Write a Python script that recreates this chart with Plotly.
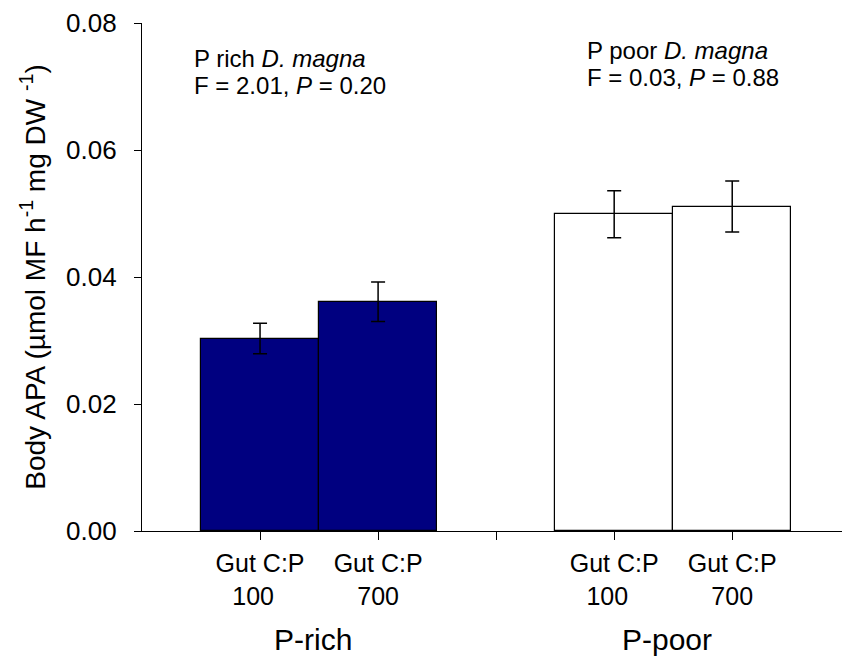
import plotly.graph_objects as go

# Treatment groups and their gut C:P levels
groups = ["P-rich", "P-rich", "P-poor", "P-poor"]
positions = [1, 2, 4, 5]
tick_positions = [1, 2, 3, 4, 5]
tick_labels = ["Gut C:P<br>100  ", "Gut C:P<br>700", "", "Gut C:P<br>100  ", "Gut C:P<br>700"]

# Body alkaline phosphatase activity (mean ± SE)
body_apa = [0.0303, 0.0361, 0.0499, 0.0511]
body_apa_se = [0.0024, 0.0031, 0.0037, 0.0040]
bar_colors = ["#000080", "#000080", "#ffffff", "#ffffff"]

# One-way ANOVA summaries, one line of text per row
stats_rich = ["P rich <i>D. magna</i>", "F = 2.01, <i>P</i> = 0.20"]
stats_poor = ["P poor <i>D. magna</i>", "F = 0.03, <i>P</i> = 0.88"]

FONT = "Liberation Sans, Arial, sans-serif"

fig = go.Figure()
fig.add_trace(go.Bar(
    x=positions,
    y=body_apa,
    width=1.0,
    marker=dict(color=bar_colors, line=dict(color="black", width=1.2)),
    error_y=dict(type="data", array=body_apa_se, visible=True,
                 color="black", thickness=1.5, width=7),
    showlegend=False,
    hoverinfo="y",
))

fig.update_layout(
    width=842,
    height=661,
    margin=dict(l=142, r=0, t=23, b=130),
    paper_bgcolor="white",
    plot_bgcolor="white",
    font=dict(family=FONT, color="black"),
    bargap=0,
    xaxis=dict(
        range=[0, 5.93],
        tickmode="array",
        tickvals=tick_positions,
        ticktext=tick_labels,
        ticks="outside",
        ticklen=8,
        tickwidth=1.2,
        tickcolor="black",
        showline=True,
        linecolor="black",
        linewidth=1.2,
        showgrid=False,
        zeroline=False,
        tickfont=dict(size=25, family=FONT),
        ticklabelstandoff=2,
        fixedrange=True,
    ),
    yaxis=dict(
        range=[0, 0.08],
        tickmode="array",
        tickvals=[0, 0.02, 0.04, 0.06, 0.08],
        tickformat=".2f",
        ticks="outside",
        ticklen=7,
        tickwidth=1.2,
        tickcolor="black",
        showline=True,
        linecolor="black",
        linewidth=1.2,
        showgrid=False,
        zeroline=False,
        tickfont=dict(size=26, family=FONT),
        ticklabelstandoff=12,
        title=dict(
            text="Body APA (µmol MF h<sup>-1</sup> mg DW <sup>-1</sup>)",
            font=dict(size=28, family=FONT),
            standoff=12,
        ),
        fixedrange=True,
    ),
)

# Group labels under the tick labels
for label, xc in [("P-rich", 1.45), ("P-poor", 4.45)]:
    fig.add_annotation(
        x=xc, y=0, xref="x", yref="paper",
        yshift=-90, text=label, showarrow=False,
        font=dict(size=30, family=FONT), yanchor="top",
    )

# ANOVA results for each D. magna group, placed line by line
for lines, x0, shifts in [(stats_rich, 0.42, (-35, -62)),
                          (stats_poor, 3.75, (-27, -54))]:
    for text, dy in zip(lines, shifts):
        fig.add_annotation(
            x=x0, y=0.08, xref="x", yref="y", yshift=dy,
            text=text, showarrow=False,
            xanchor="left", yanchor="middle", align="left",
            font=dict(size=24, family=FONT),
        )

fig.write_html("out.html")
